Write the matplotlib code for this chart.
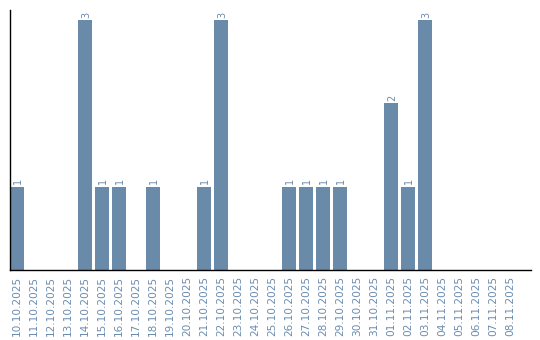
import matplotlib
matplotlib.use("Agg")
import matplotlib.pyplot as plt

dates = ["10.10.2025", "11.10.2025", "12.10.2025", "13.10.2025", "14.10.2025",
         "15.10.2025", "16.10.2025", "17.10.2025", "18.10.2025", "19.10.2025",
         "20.10.2025", "21.10.2025", "22.10.2025", "23.10.2025", "24.10.2025",
         "25.10.2025", "26.10.2025", "27.10.2025", "28.10.2025", "29.10.2025",
         "30.10.2025", "31.10.2025", "01.11.2025", "02.11.2025", "03.11.2025",
         "04.11.2025", "05.11.2025", "06.11.2025", "07.11.2025", "08.11.2025"]
values = [1, 0, 0, 0, 3, 1, 1, 0, 1, 0, 0, 1, 3, 0, 0, 0, 1, 1, 1, 1, 0, 0, 2, 1, 3,
          0, 0, 0, 0, 0]

bar_color = "#6a8aaa"
text_color = "#6a8caf"

fig = plt.figure(figsize=(5.4, 3.4), dpi=100)
ax = fig.add_axes([10 / 540, 70 / 340, 521 / 540, 260 / 340])

bw = 14 / 17
xs = list(range(len(dates)))
ax.bar(xs, values, width=bw, align="edge", color=bar_color)
for x, v in zip(xs, values):
    if v > 0:
        ax.text(x + bw / 2 + 0.05, v + 0.03, str(v), rotation=90, ha="center", va="bottom",
                fontsize=7, color=text_color)

ax.set_xlim(0, 521 / 17)
ax.set_ylim(0, 3 * 260 / 250)
ax.set_xticks([x + bw / 2 for x in xs])
ax.set_xticklabels(dates, rotation=90, fontsize=7.6, color=text_color, va="top")
ax.tick_params(axis="x", length=0, pad=4)
ax.set_yticks([])
for s in ["top", "right"]:
    ax.spines[s].set_visible(False)
for s in ["left", "bottom"]:
    ax.spines[s].set_linewidth(1.0)
    ax.spines[s].set_color("black")

fig.savefig("out.png", dpi=100)
